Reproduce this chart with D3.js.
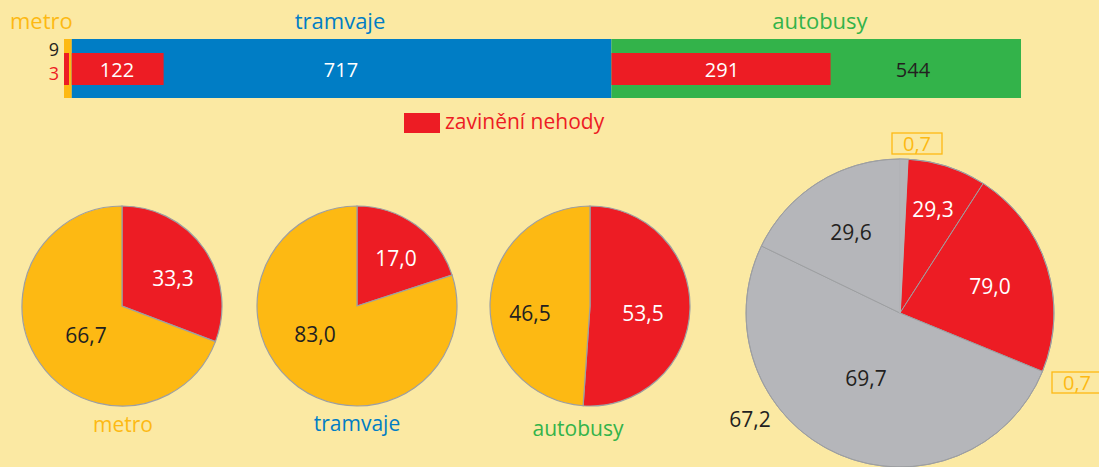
<!DOCTYPE html>
<html>
<head>
<meta charset="utf-8">
<script src="https://cdn.jsdelivr.net/npm/d3@7"></script>
<style>
  body { margin: 0; background: #fbe9a3; }
  svg { display: block; font-family: "Open Sans", sans-serif; }
</style>
</head>
<body>
<svg></svg>
<script>
const width = 1099, height = 467;
const svg = d3.select("svg").attr("width", width).attr("height", height);

// data
const modes = ["metro", "tramvaje", "autobusy"];
const totals = [9, 717, 544];
const caused = [3, 122, 291];
const causedPct = ["33,3", "17,0", "53,5"];
const otherPct = ["66,7", "83,0", "46,5"];
// slice shares (%) as they are drawn in the picture
const drawnCausedShare = [30.8, 20.0, 51.1];

// big pie: slices in degrees as drawn, with their labels
const bigSlices = [
  { key: "metro-caused", value: 2.9, fill: "#b5b6ba" },
  { key: "tram-caused", value: 29.8, fill: "#ed1c24" },
  { key: "bus-caused", value: 79.6, fill: "#ed1c24" },
  { key: "tram-other", value: 183.5, fill: "#b5b6ba" },
  { key: "bus-other", value: 64.2, fill: "#b5b6ba" }
];
const bigLabels = ["29,3", "79,0", "29,6", "69,7", "67,2", "0,7"];

const colors = { metro: "#fdb913", tramvaje: "#007dc5", autobusy: "#33b34a" };
const red = "#ed1c24", ink = "#231f20";

// ---- stacked bar ----
const x = d3.scaleLinear().domain([0, d3.sum(totals)]).range([65, 1021]);
let acc = 0;
const segs = totals.map((t, i) => {
  const s = { mode: modes[i], start: acc, total: t, caused: caused[i] };
  acc += t;
  return s;
});
const bar = svg.append("g");
bar.selectAll("rect.total").data(segs).enter().append("rect")
  .attr("x", d => x(d.start) - (d.start === 0 ? 1 : 0))
  .attr("y", 39)
  .attr("width", d => x(d.start + d.total) - x(d.start) + (d.start === 0 ? 1 : 0))
  .attr("height", 59)
  .attr("fill", d => colors[d.mode]);
bar.selectAll("rect.caused").data(segs).enter().append("rect")
  .attr("x", d => x(d.start) - (d.start === 0 ? 1 : 0))
  .attr("y", 53)
  .attr("width", d => Math.max(5, x(d.start + d.caused) - x(d.start)))
  .attr("height", 32)
  .attr("fill", red);

// values inside the bar
bar.append("text").attr("x", 117).attr("y", 77).attr("text-anchor", "middle")
  .attr("font-size", 20).attr("fill", "#fff").text(caused[1]);
bar.append("text").attr("x", 341).attr("y", 77).attr("text-anchor", "middle")
  .attr("font-size", 20).attr("fill", "#fff").text(totals[1]);
bar.append("text").attr("x", 722).attr("y", 77).attr("text-anchor", "middle")
  .attr("font-size", 20).attr("fill", "#fff").text(caused[2]);
bar.append("text").attr("x", 913).attr("y", 77).attr("text-anchor", "middle")
  .attr("font-size", 20).attr("fill", ink).text(totals[2]);
bar.append("text").attr("x", 59).attr("y", 56).attr("text-anchor", "end")
  .attr("font-size", 18).attr("fill", ink).text(totals[0]);
bar.append("text").attr("x", 59).attr("y", 80).attr("text-anchor", "end")
  .attr("font-size", 18).attr("fill", red).text(caused[0]);

// titles above the bar
svg.append("text").attr("x", 10).attr("y", 29).attr("font-size", 22)
  .attr("fill", colors.metro).text(modes[0]);
svg.append("text").attr("x", 340).attr("y", 29).attr("text-anchor", "middle").attr("font-size", 22)
  .attr("fill", colors.tramvaje).text(modes[1]);
svg.append("text").attr("x", 820).attr("y", 29).attr("text-anchor", "middle").attr("font-size", 22)
  .attr("fill", colors.autobusy).text(modes[2]);

// legend
svg.append("rect").attr("x", 404).attr("y", 113).attr("width", 36).attr("height", 20).attr("fill", red);
svg.append("text").attr("x", 445).attr("y", 129).attr("font-size", 21).attr("fill", red).text("zavinění nehody");

// ---- small pies ----
const pie = d3.pie().sort(null).value(d => d);
const arc = d3.arc().innerRadius(0).outerRadius(100);
const centers = [[122, 306], [357, 306], [590, 306]];
const valueLabelPos = [
  [[173, 286], [86, 343]],
  [[396, 266], [315, 342]],
  [[643, 321], [530, 321]]
];
const nameY = [432, 431, 436];
const nameX = [123, 357, 578];

modes.forEach((m, i) => {
  const g = svg.append("g").attr("transform", `translate(${centers[i]})`);
  const data = pie([drawnCausedShare[i], 100 - drawnCausedShare[i]]);
  g.selectAll("path").data(data).enter().append("path")
    .attr("d", arc)
    .attr("fill", (d, j) => j === 0 ? red : colors.metro)
    .attr("stroke", "#9d9fa2").attr("stroke-width", 1.2);
  svg.append("text").attr("x", valueLabelPos[i][0][0]).attr("y", valueLabelPos[i][0][1])
    .attr("text-anchor", "middle").attr("font-size", 21).attr("fill", "#fff").text(causedPct[i]);
  svg.append("text").attr("x", valueLabelPos[i][1][0]).attr("y", valueLabelPos[i][1][1])
    .attr("text-anchor", "middle").attr("font-size", 21).attr("fill", ink).text(otherPct[i]);
  svg.append("text").attr("x", nameX[i]).attr("y", nameY[i]).attr("text-anchor", "middle")
    .attr("font-size", 21).attr("fill", colors[m]).text(m);
});

// ---- big pie ----
const bigPie = d3.pie().sort(null).value(d => d.value);
const bigArc = d3.arc().innerRadius(0).outerRadius(154);
const bg = svg.append("g").attr("transform", "translate(900,313)");
bg.selectAll("path").data(bigPie(bigSlices)).enter().append("path")
  .attr("d", bigArc)
  .attr("fill", d => d.data.fill)
  .attr("stroke", d => d.data.key === "metro-caused" ? d.data.fill : "#9d9fa2")
  .attr("stroke-width", d => d.data.key === "metro-caused" ? 1.6 : 1)
  .filter(d => d.data.key === "metro-caused").raise();
bg.append("circle").attr("r", 154).attr("fill", "none")
  .attr("stroke", "#9d9fa2").attr("stroke-width", 1);

const bigLabelPos = [
  [933, 217, "#fff"], [990, 294, "#fff"], [851, 240, ink],
  [866, 386, ink], [750, 427, ink]
];
bigLabelPos.forEach((p, i) => {
  svg.append("text").attr("x", p[0]).attr("y", p[1]).attr("text-anchor", "middle")
    .attr("font-size", 21).attr("fill", p[2]).text(bigLabels[i]);
});

// small boxed 0,7 labels for metro
const boxes = [[892, 133, 50, 21], [1052, 372, 52, 21]];
boxes.forEach(b => {
  svg.append("rect").attr("x", b[0]).attr("y", b[1]).attr("width", b[2]).attr("height", b[3])
    .attr("fill", "none").attr("stroke", colors.metro).attr("stroke-width", 1.3);
  svg.append("text").attr("x", b[0] + 25).attr("y", b[1] + 18).attr("text-anchor", "middle")
    .attr("font-size", 20).attr("fill", colors.metro).text(bigLabels[5]);
});
</script>
</body>
</html>
